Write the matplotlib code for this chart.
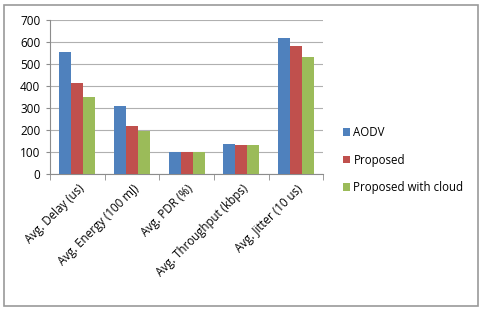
import numpy as np
import matplotlib.pyplot as plt
from matplotlib.patches import Rectangle

# data
categorias = ['Avg. Delay (us)', 'Avg. Energy (100 mJ)', 'Avg. PDR (%)',
              'Avg. Throughput (kbps)', 'Avg. Jitter (10 us)']
aodv = [555, 308, 100, 137, 620]
proposto = [413, 218, 100, 134, 580]
proposto_nuvem = [350, 197, 100, 134, 530]
series = ['AODV', 'Proposed', 'Proposed with cloud']
cores = ['#4F81BD', '#C0504D', '#9BBB59']

plt.rcParams['font.family'] = ['Open Sans', 'DejaVu Sans']

fig = plt.figure(figsize=(4.86, 3.14), dpi=100)
fig.patches.append(Rectangle((0.008, 0.025), 0.976, 0.96, transform=fig.transFigure,
                             fill=False, edgecolor='#9a9a9a', linewidth=1.2))
ax = fig.add_axes([0.103, 0.446, 0.562, 0.49])

x = np.arange(len(categorias))
larg = 0.22
for i, (valores, nome) in enumerate(zip([aodv, proposto, proposto_nuvem], series)):
    ax.bar(x + (i - 1) * larg, valores, larg, color=cores[i], label=nome, zorder=3)

ax.set_xlim(-0.5, len(categorias) - 0.5)
ax.set_ylim(0, 700)
ax.set_yticks(range(0, 701, 100))
ax.grid(axis='y', color='#b0b0b0', linewidth=0.8, zorder=0)
ax.tick_params(axis='y', labelsize=8.5, length=3, color='#8c8c8c', pad=4)

ax.set_xticks(x)
ax.set_xticklabels(categorias, rotation=45, ha='right', rotation_mode='anchor', fontsize=8.3)
ax.tick_params(axis='x', length=0, pad=6)
ax.set_xticks(np.arange(-0.5, len(categorias)), minor=True)
ax.tick_params(axis='x', which='minor', length=4, color='#8c8c8c')

for lado in ['top', 'right']:
    ax.spines[lado].set_visible(False)
ax.spines['left'].set_color('#8c8c8c')
ax.spines['bottom'].set_color('#8c8c8c')

ax.legend(loc='center left', bbox_to_anchor=(1.035, 0.09), frameon=False, fontsize=8.3,
          handlelength=0.6, handleheight=0.6, handletextpad=0.3, labelspacing=1.25)

fig.savefig('out.png', dpi=100)
